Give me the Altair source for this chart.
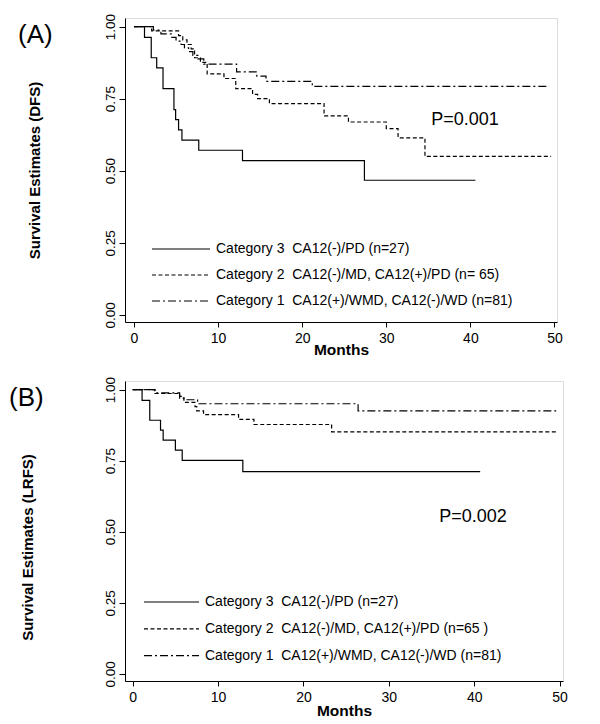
import altair as alt
import pandas as pd

# ---------------- data ----------------
labels_a = [
    "Category 3\u00a0\u00a0CA12(-)/PD (n=27)",
    "Category 2\u00a0\u00a0CA12(-)/MD, CA12(+)/PD (n= 65)",
    "Category 1\u00a0\u00a0CA12(+)/WMD, CA12(-)/WD (n=81)",
]
labels_b = [
    "Category 3\u00a0\u00a0CA12(-)/PD (n=27)",
    "Category 2\u00a0\u00a0CA12(-)/MD, CA12(+)/PD (n=65 )",
    "Category 1\u00a0\u00a0CA12(+)/WMD, CA12(-)/WD (n=81)",
]

# Panel A (DFS)
a_cat3_t = [0, 1.25, 2.05, 2.7, 3.45, 4.75, 4.95, 5.3, 5.7, 7.7, 12.9, 27.4, 40.6]
a_cat3_s = [1.0, 0.963, 0.892, 0.857, 0.785, 0.712, 0.677, 0.642, 0.606, 0.571, 0.535, 0.467, 0.467]
a_cat2_t = [0, 2.1, 5.3, 5.8, 6.3, 6.8, 7.2, 7.9, 8.7, 10.7, 12.1, 14.1, 14.7, 16.1, 22.6, 25.5, 30.0, 31.4, 34.6, 49.6]
a_cat2_s = [1.0, 0.985, 0.969, 0.954, 0.938, 0.923, 0.892, 0.876, 0.836, 0.82, 0.785, 0.765, 0.75, 0.733, 0.69, 0.669, 0.646, 0.614, 0.55, 0.55]
a_cat1_t = [0, 2.3, 3.2, 4.5, 5.0, 5.6, 6.0, 6.5, 7.0, 7.6, 8.3, 12.2, 14.6, 15.7, 21.2, 49.4]
a_cat1_s = [1.0, 0.988, 0.975, 0.963, 0.95, 0.938, 0.926, 0.913, 0.90, 0.888, 0.87, 0.843, 0.828, 0.81, 0.793, 0.793]

# Panel B (LRFS)
b_cat3_t = [0, 1.1, 2.0, 3.26, 3.57, 5.0, 5.8, 12.9, 40.7]
b_cat3_s = [1.0, 0.962, 0.892, 0.857, 0.822, 0.787, 0.751, 0.711, 0.711]
b_cat2_t = [0, 2.6, 5.5, 6.0, 7.3, 7.5, 8.3, 12.4, 14.2, 23.3, 49.8]
b_cat2_s = [1.0, 0.986, 0.97, 0.955, 0.94, 0.925, 0.912, 0.895, 0.877, 0.851, 0.851]
b_cat1_t = [0, 2.6, 5.5, 6.0, 7.6, 26.4, 49.6]
b_cat1_s = [1.0, 0.988, 0.976, 0.964, 0.95, 0.925, 0.925]

x_ticks = [0, 10, 20, 30, 40, 50]
y_ticks = [0.0, 0.25, 0.5, 0.75, 1.0]

FONT = "Liberation Sans"
DASHES = [[1, 0], [4, 2.5], [8, 3, 2, 3]]
SYM = 14  # legend symbol box (px)


def frame(labels, series):
    rows = []
    for lab, (ts, ss) in zip(labels, series):
        for t, s in zip(ts, ss):
            rows.append({"t": t, "s": s, "group": lab})
    return pd.DataFrame(rows)


def sample_path(length):
    # horizontal legend sample line ending at the right edge of the symbol box
    r = SYM / 2.0
    return "M%.4f,0H1" % (-(length - r) / r)


def panel(df, labels, xdom, width, height, ytitle, ytitle_x, ytitle_y,
          xtitle_y, letter, letter_x, letter_y, pval, p_x, p_y,
          leg_x, leg_y, sym_len, row_pad):
    lines = alt.Chart(df).mark_line(
        interpolate="step-after", color="black", strokeWidth=1.2
    ).encode(
        x=alt.X("t:Q",
                scale=alt.Scale(domain=xdom, nice=False, zero=False),
                axis=alt.Axis(values=x_ticks, title="Months", titleFont=FONT,
                              titleFontSize=15.5, titleFontWeight="bold",
                              titleColor="black", titleY=xtitle_y,
                              labelFont=FONT, labelFontSize=14, labelColor="black",
                              tickColor="black", tickSize=5, labelPadding=4,
                              domainColor="black", grid=False)),
        y=alt.Y("s:Q",
                scale=alt.Scale(domain=[-0.025, 1.03], nice=False, zero=False),
                axis=alt.Axis(values=y_ticks, format=".2f", title=ytitle,
                              titleFont=FONT, titleFontSize=15,
                              titleFontWeight="bold", titleColor="black",
                              titleX=ytitle_x, titleY=ytitle_y,
                              labelAngle=-90, labelAlign="center",
                              labelBaseline="bottom",
                              labelFont=FONT, labelFontSize=13.5, labelColor="black",
                              tickColor="black", tickSize=6, labelPadding=2,
                              domainColor="black", grid=False)),
        strokeDash=alt.StrokeDash(
            "group:N",
            scale=alt.Scale(domain=labels, range=DASHES),
            legend=alt.Legend(orient="none", legendX=leg_x, legendY=leg_y,
                              title=None, symbolType=sample_path(sym_len),
                              symbolSize=SYM * SYM,
                              symbolStrokeWidth=1.2, symbolStrokeColor="black",
                              symbolFillColor="transparent",
                              labelFont=FONT, labelFontSize=14, labelColor="black",
                              labelLimit=600, labelOffset=5, padding=0,
                              rowPadding=row_pad, direction="vertical"),
        ),
    )
    letter_mark = alt.Chart(pd.DataFrame({"txt": [letter]})).mark_text(
        font=FONT, fontSize=26, align="left", baseline="middle", color="black"
    ).encode(text="txt:N", x=alt.value(letter_x), y=alt.value(letter_y))
    p_mark = alt.Chart(pd.DataFrame({"txt": [pval]})).mark_text(
        font=FONT, fontSize=18, align="center", baseline="middle", color="black"
    ).encode(text="txt:N", x=alt.value(p_x), y=alt.value(p_y))
    return alt.layer(lines, letter_mark, p_mark).properties(width=width, height=height)


df_a = frame(labels_a, [(a_cat3_t, a_cat3_s), (a_cat2_t, a_cat2_s), (a_cat1_t, a_cat1_s)])
df_b = frame(labels_b, [(b_cat3_t, b_cat3_s), (b_cat2_t, b_cat2_s), (b_cat1_t, b_cat1_s)])

panel_a = panel(df_a, labels_a, xdom=[-1.07, 50.3], width=432, height=304,
                ytitle="Survival Estimates (DFS)", ytitle_x=-83, ytitle_y=152,
                xtitle_y=20, letter="(A)", letter_x=-107, letter_y=17,
                pval="P=0.001", p_x=340, p_y=102,
                leg_x=70, leg_y=223, sym_len=58, row_pad=11)

panel_b = panel(df_b, labels_b, xdom=[-0.9, 50.4], width=438, height=300,
                ytitle="Survival Estimates (LRFS)", ytitle_x=-90, ytitle_y=166,
                xtitle_y=22, letter="(B)", letter_x=-116, letter_y=17,
                pval="P=0.002", p_x=348, p_y=136,
                leg_x=59, leg_y=213, sym_len=55, row_pad=11.8)

chart = alt.vconcat(panel_a, panel_b, spacing=59, bounds="flush").resolve_scale(
    strokeDash="independent", x="independent", y="independent"
).properties(padding={"left": 0, "top": 5, "right": 5, "bottom": 5}).configure_view(
    stroke=None
).configure(background="white")

chart.save("out.html", embed_options={"renderer": "svg", "actions": False})
